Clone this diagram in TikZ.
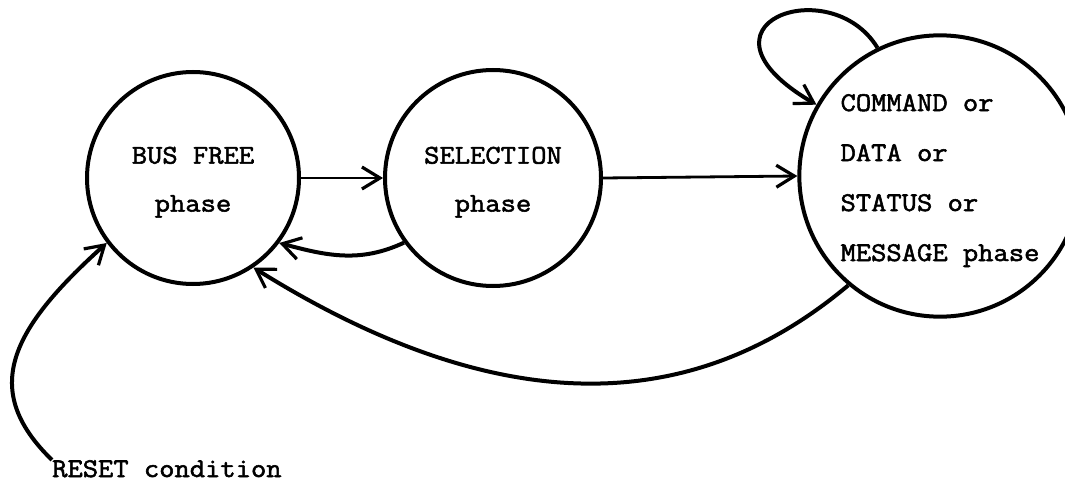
\documentclass[tikz,border=0pt]{standalone}
\usepackage{fontspec}
\newfontfamily\tw{Latin Modern Mono}[FakeBold=2,FakeStretch=1.1]
\usetikzlibrary{arrows.meta}
\tikzset{
  state/.style={circle, draw, line width=4pt, inner sep=0pt,
    font=\tw\fontsize{27}{48}\selectfont},
  barb/.style={-{Straight Barb[length=18pt,width=22pt,line width=3.2pt]}},
  straightconn/.style={barb, line width=2.8pt},
  curveconn/.style={barb, line width=4pt},
  lbl/.style={inner sep=0pt, font=\tw\fontsize{27}{32}\selectfont},
}
\newcommand{\twolines}[2]{\raisebox{-5pt}{\begin{tabular}{@{}c@{}}#1\\#2\end{tabular}}}
\begin{document}
\begin{tikzpicture}[x=1pt,y=1pt]
\useasboundingbox (0,0) rectangle (1065,-487);
\node[state, minimum size=212pt] (bus) at (193,-178) {\twolines{BUS FREE}{phase}};
\node[state, minimum size=216pt] (sel) at (493,-178) {\twolines{SELECTION}{phase}};
\node[state, minimum size=276pt, font=\tw\fontsize{27}{50}\selectfont]
  (cmd) at (940,-176) {\raisebox{-3pt}{\begin{tabular}{@{}l@{}}COMMAND or\\DATA or\\STATUS or\\MESSAGE phase\end{tabular}}};
\node[lbl, anchor=base west] (reset) at (52,-477) {RESET condition};

\draw[straightconn] (bus) -- (sel);
\draw[straightconn] (sel.east) -- (cmd.west);
\draw[curveconn] (sel.216) to[out=205, in=-15] (bus.-37);
\draw[curveconn] (cmd.230) .. controls +(220:170) and +(-32:330) .. (bus.-56);
\draw[curveconn] (reset.north west) .. controls (-20,-390) and (10,-330) .. (bus.217);
\draw[curveconn] (cmd.116) .. controls (830,30) and (680,-25) .. (cmd.150);
\end{tikzpicture}
\end{document}
